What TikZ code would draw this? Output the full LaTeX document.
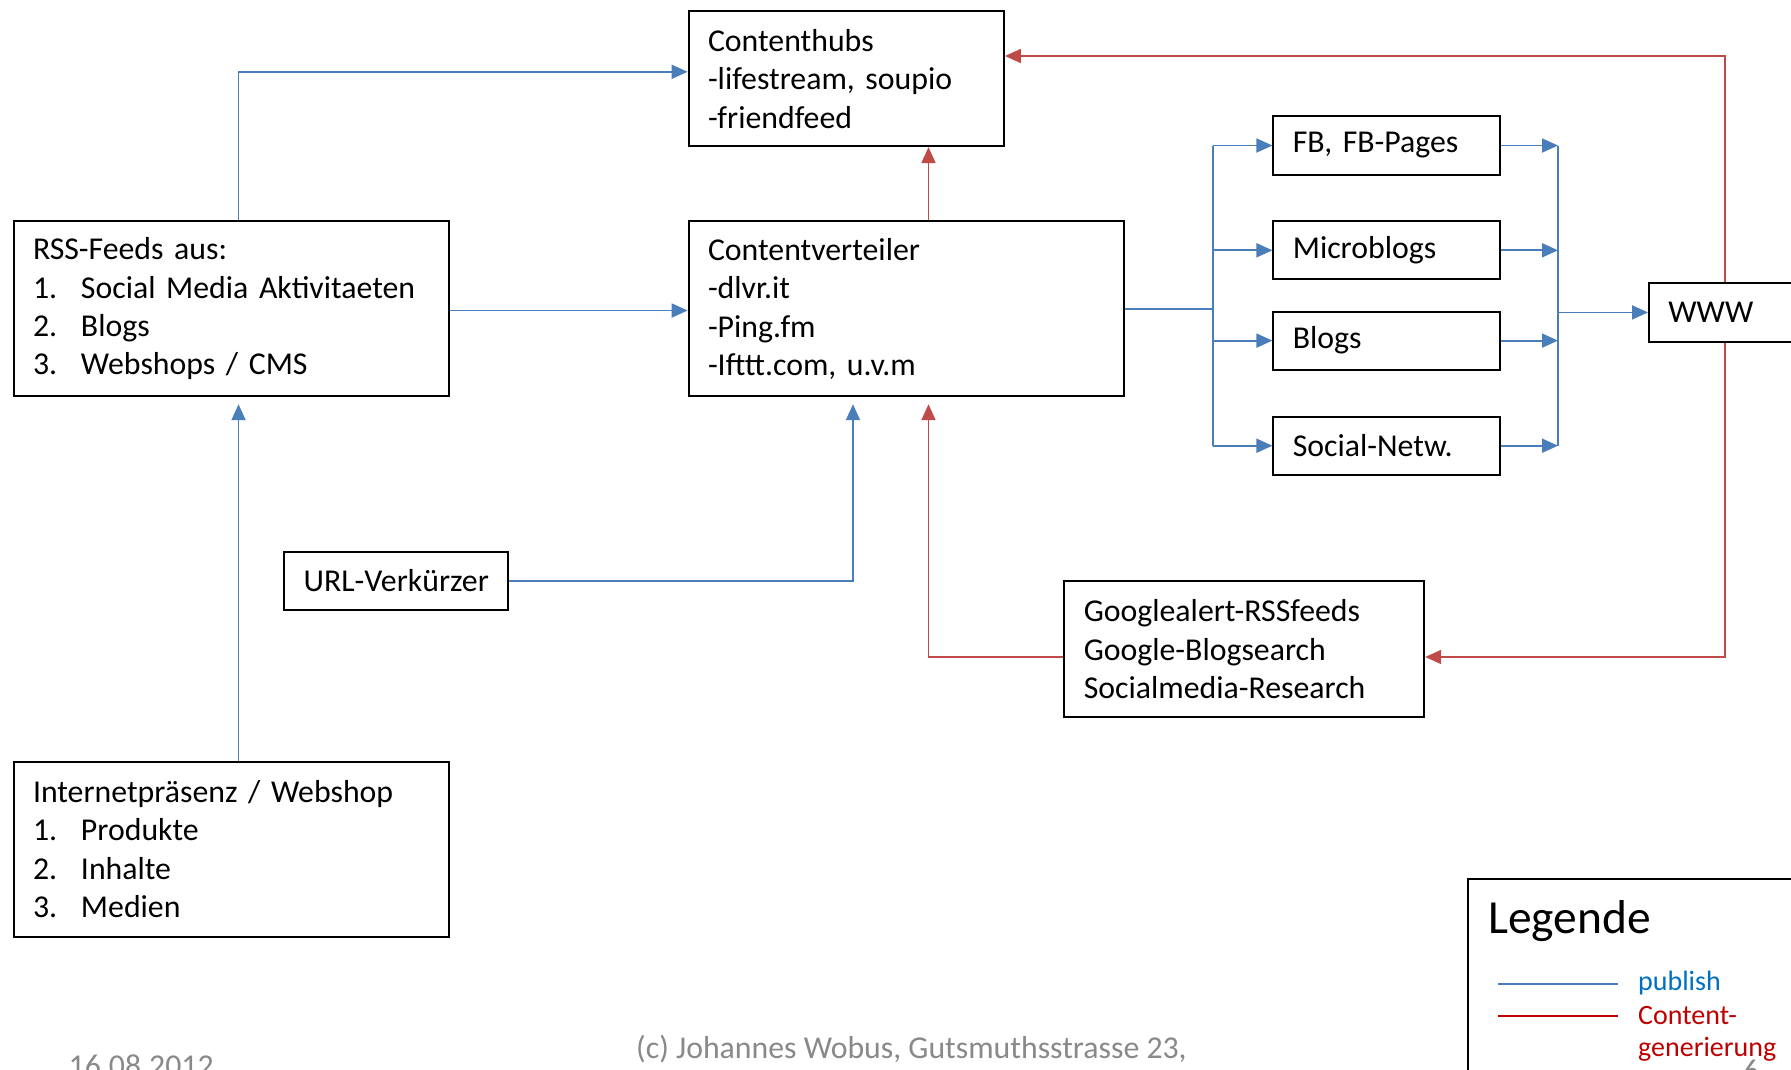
\documentclass[tikz,border=0pt]{standalone}
\usepackage{fontspec}
\setmainfont{Carlito}
\frenchspacing
\usetikzlibrary{arrows.meta,calc}
\definecolor{pubblue}{HTML}{4A7EBB}
\definecolor{genred}{HTML}{BE4B48}
\definecolor{legblue}{HTML}{0070C0}
\definecolor{legred}{HTML}{C00000}
\definecolor{footgray}{HTML}{898989}
\newcommand{\boxfontsetup}{\fontsize{31.8pt}{38.4pt}\selectfont\frenchspacing\parindent=0pt\relax}
\tikzset{
  box/.style={draw=black, line width=2pt, anchor=north west,
    inner xsep=19.4pt, inner ysep=0pt, font=\boxfontsetup},
  pub/.style={draw=pubblue, line width=1.8pt, -{Triangle[length=16pt,width=14pt]}},
  publine/.style={draw=pubblue, line width=1.8pt},
  gen/.style={draw=genred, line width=1.8pt, -{Triangle[length=16pt,width=14pt]}},
  foot/.style={text=footgray, anchor=base west, inner sep=0pt, font=\fontsize{31.8pt}{38.4pt}\selectfont\frenchspacing},
}
\newcommand{\numitem}[1]{\makebox[48pt][l]{#1}}
\begin{document}
\begin{tikzpicture}[x=1pt,y=-1pt]
\clip (0,0) rectangle (1791,1069);
\fill[white] (0,0) rectangle (1791,1069);

% boxes
\node[box, minimum width=315.3pt, minimum height=134.8pt, text width=276.5pt] (hubs) at (687.6,10.3)
  {Contenthubs\\-lifestream, soupio\\-friendfeed};
\node[box, minimum width=435.2pt, minimum height=174.8pt, text width=396.4pt] (cv) at (687.6,220.4)
  {Contentverteiler\\-dlvr.it\\-Ping.fm\\-Ifttt.com, u.v.m};
\node[box, minimum width=435.1pt, minimum height=174.8pt, text width=396.3pt] (rss) at (12.6,220.4)
  {RSS-Feeds aus:\\\numitem{1.}Social Media Aktivitaeten\\\numitem{2.}Blogs\\\numitem{3.}Webshops / CMS};
\node[box, minimum width=435.1pt, minimum height=174.8pt, text width=396.3pt] (inet) at (12.6,760.7)
  {Internetpräsenz / Webshop\\\numitem{1.}Produkte\\\numitem{2.}Inhalte\\\numitem{3.}Medien};
\node[box, minimum width=223.8pt, minimum height=58.3pt, text width=185pt] (url) at (283.3,550.5)
  {\mbox{URL-Verkürzer}};
\node[box, minimum width=359.8pt, minimum height=136pt, text width=321pt] (goog) at (1063.4,580.2)
  {Googlealert-RSSfeeds\\Google-Blogsearch\\Socialmedia-Research};
\node[box, minimum width=226.2pt, minimum height=58.2pt, text width=187.4pt] (fb) at (1272.4,115.4)
  {FB, FB-Pages};
\node[box, minimum width=226.2pt, minimum height=57.8pt, text width=187.4pt] (micro) at (1272.4,220.4)
  {Microblogs};
\node[box, minimum width=226.2pt, minimum height=57.8pt, text width=187.4pt] (blogs) at (1272.4,310.7)
  {Blogs};
\node[box, minimum width=226.2pt, minimum height=57.8pt, text width=187.4pt] (social) at (1272.4,415.8)
  {Social-Netw.};
\node[box, minimum width=200pt, minimum height=58.4pt, text width=161.2pt] (www) at (1648,282.2)
  {WWW};

% helper coordinates
\coordinate (bL) at (1213,0);
\coordinate (bR) at (1558,0);
\coordinate (cvtop) at ([xshift=22.3pt]cv.north);
\coordinate (wtop) at ([xshift=-24pt]www.north);
\coordinate (wbot) at ([xshift=-24pt]www.south);

% publish connectors (blue)
\draw[pub] ([xshift=7.4pt]rss.north) |- ([yshift=6.9pt]hubs.west);
\draw[pub, shorten >=7pt] ([xshift=7.4pt]inet.north) -- ([xshift=7.4pt]rss.south);
\draw[pub] ([yshift=-1.7pt]rss.east) -- ([yshift=-1.7pt]cv.west);
\draw[pub, shorten >=7pt] (url.east) -| ([xshift=-53.2pt]cv.south);
\draw[publine] (cv.east) -- (bL |- cv.east);
\draw[publine] (bL |- fb.west) -- (bL |- social.west);
\draw[pub] (bL |- fb.west) -- (fb.west);
\draw[pub] (bL |- micro.west) -- (micro.west);
\draw[pub] (bL |- blogs.west) -- (blogs.west);
\draw[pub] (bL |- social.west) -- (social.west);
\draw[pub] (fb.east) -- (bR |- fb.east);
\draw[pub] (micro.east) -- (bR |- micro.east);
\draw[pub] (blogs.east) -- (bR |- blogs.east);
\draw[pub] (social.east) -- (bR |- social.east);
\draw[publine] (bR |- fb.east) -- (bR |- social.east);
\draw[pub] (bR |- www.west) -- (www.west);

% content generation connectors (red)
\draw[gen] (cvtop) -- (cvtop |- hubs.south);
\draw[gen, shorten >=7pt] ([yshift=-7.8pt]goog.west) -| ([xshift=22.3pt]cv.south);
\draw[gen] (wtop) |- ([yshift=22.7pt]hubs.east);
\draw[gen] (wbot) |- ([yshift=-7.8pt]goog.east);

% legend
\draw[line width=2pt] (1467.7,1100) -- (1467.7,879) -- (1820,879);
\node[anchor=base west, inner sep=0pt, font=\fontsize{47.5pt}{57pt}\selectfont] (legtitle) at (1488,933.3) {Legende};
\coordinate (lb1) at (1498,984);
\coordinate (lb2) at (1618,984);
\coordinate (lr1) at (1498,1015.7);
\coordinate (lr2) at (1618,1015.7);
\draw[draw=pubblue, line width=2.4pt] (lb1) -- (lb2);
\draw[draw=legred, line width=2.4pt] (lr1) -- (lr2);
\node[anchor=base west, inner sep=0pt, text=legblue, font=\fontsize{28pt}{33.6pt}\selectfont] (legpub) at (1638,990) {publish};
\node[anchor=base west, inner sep=0pt, text=legred, font=\fontsize{28pt}{33.6pt}\selectfont] (leggen1) at (1638,1024) {Content-};
\node[anchor=base west, inner sep=0pt, text=legred, font=\fontsize{28pt}{33.6pt}\selectfont] (leggen2) at (1638,1056) {generierung};

% footer
\node[foot] (copy) at (636,1058) {(c) Johannes Wobus, Gutsmuthsstrasse 23,};
\node[foot] (date) at (68.5,1076) {16.08.2012};
\node[foot] (page) at (1743,1081) {6};
\end{tikzpicture}
\end{document}
